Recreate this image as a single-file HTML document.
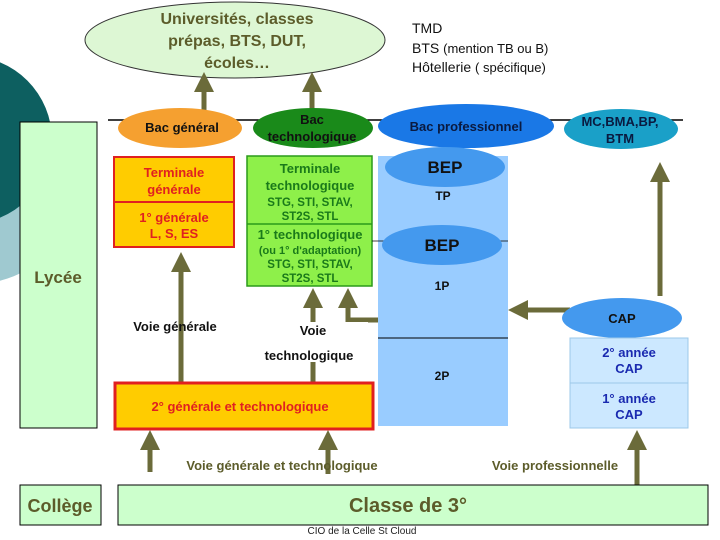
<!DOCTYPE html>
<html><head><meta charset="utf-8"><style>body{margin:0;background:#fff}svg{display:block}text{font-family:"Liberation Sans",sans-serif}</style></head><body>
<svg width="720" height="540" viewBox="0 0 720 540">
<defs><marker id="a" markerWidth="4" markerHeight="4" refX="2" refY="2" orient="auto" markerUnits="strokeWidth"><path d="M0,0 L4,2 L0,4 z" fill="#6b6b3a"/></marker></defs>
<circle cx="-20" cy="195" r="88" fill="#9fc9d0"/>
<circle cx="-32" cy="140" r="84" fill="#0d5f60"/>
<ellipse cx="235" cy="40" rx="150" ry="38" fill="#ddf7d4" stroke="#333"/>
<g font-weight="bold" font-size="16" fill="#5c5c2a" text-anchor="middle"><text x="237" y="24">Universités, classes</text><text x="237" y="46">prépas, BTS, DUT,</text><text x="237" y="68">écoles…</text></g>
<g font-size="14" fill="#111"><text x="412" y="33">TMD</text><text x="412" y="53">BTS <tspan font-size="13">(mention TB ou B)</tspan></text><text x="412" y="72">Hôtellerie <tspan font-size="13">( spécifique)</tspan></text></g>
<g stroke="#6b6b3a" stroke-width="5" fill="none" marker-end="url(#a)">
<line x1="204" y1="110" x2="204" y2="82"/><line x1="312" y1="110" x2="312" y2="82"/>
<line x1="181" y1="410" x2="181" y2="262"/><line x1="313" y1="410" x2="313" y2="298"/>
<polyline points="378,320 348,320 348,298"/>
<line x1="570" y1="310" x2="518" y2="310"/><line x1="660" y1="296" x2="660" y2="172"/>
<line x1="150" y1="472" x2="150" y2="440"/><line x1="637" y1="485" x2="637" y2="440"/>
<line x1="328" y1="480" x2="328" y2="440"/>
</g>
<line x1="328" y1="474" x2="328" y2="481" stroke="#fff" stroke-width="7"/>
<rect x="104" y="320" width="70" height="14" fill="#fff"/>
<rect x="258" y="322" width="110" height="40" fill="#fff"/>
<line x1="108" y1="120" x2="683" y2="120" stroke="#000" stroke-width="1.5"/>
<rect x="20" y="122" width="77" height="306" fill="#ccffcc" stroke="#000"/>
<text x="58" y="283" font-size="17" font-weight="bold" fill="#5c5c2a" text-anchor="middle">Lycée</text>
<ellipse cx="180" cy="128" rx="62" ry="20" fill="#f5a030"/>
<ellipse cx="313" cy="128" rx="60" ry="20" fill="#1a8a1a"/>
<ellipse cx="466" cy="126" rx="88" ry="22" fill="#1a78e6"/>
<ellipse cx="621" cy="129" rx="57" ry="20" fill="#1aa0c8"/>
<g font-size="13" font-weight="bold" fill="#111" text-anchor="middle"><text x="182" y="132">Bac général</text><text x="312" y="124">Bac</text><text x="312" y="141">technologique</text><text x="466" y="131" fill="#0a1a40">Bac professionnel</text><text x="620" y="126" fill="#0a1a40">MC,BMA,BP,</text><text x="620" y="143" fill="#0a1a40">BTM</text></g>
<rect x="114" y="157" width="120" height="90" fill="#ffcc00" stroke="#e02020" stroke-width="2"/>
<line x1="114" y1="202" x2="234" y2="202" stroke="#e02020" stroke-width="2"/>
<g font-size="13" font-weight="bold" fill="#e02020" text-anchor="middle"><text x="174" y="177">Terminale</text><text x="174" y="194">générale</text><text x="174" y="222">1° générale</text><text x="174" y="238">L, S, ES</text></g>
<rect x="247" y="156" width="125" height="130" fill="#8ef04a" stroke="#2a9a1a" stroke-width="1.5"/>
<line x1="247" y1="224" x2="372" y2="224" stroke="#2a9a1a" stroke-width="1.5"/>
<g font-weight="bold" fill="#1a7a1a" text-anchor="middle"><text x="310" y="173" font-size="13">Terminale</text><text x="310" y="190" font-size="13">technologique</text><text x="310" y="206" font-size="11.5">STG, STI, STAV,</text><text x="310" y="220" font-size="11.5">ST2S, STL</text><text x="310" y="239" font-size="13">1° technologique</text><text x="310" y="254" font-size="11">(ou 1° d'adaptation)</text><text x="310" y="268" font-size="11.5">STG, STI, STAV,</text><text x="310" y="282" font-size="11.5">ST2S, STL</text></g>
<rect x="378" y="156" width="130" height="270" fill="#99ccff"/>
<line x1="378" y1="338" x2="508" y2="338" stroke="#000"/>
<line x1="372" y1="241" x2="508" y2="241" stroke="#000" stroke-width="0.8"/>
<ellipse cx="445" cy="167" rx="60" ry="20" fill="#4499ee"/>
<ellipse cx="442" cy="245" rx="60" ry="20" fill="#4499ee"/>
<g font-weight="bold" fill="#111" text-anchor="middle"><text x="445" y="173" font-size="17">BEP</text><text x="442" y="251" font-size="17">BEP</text><text x="443" y="200" font-size="12">TP</text><text x="442" y="290" font-size="12">1P</text><text x="442" y="380" font-size="12">2P</text></g>
<ellipse cx="622" cy="318" rx="60" ry="20" fill="#4499ee"/>
<text x="622" y="323" font-size="13" font-weight="bold" fill="#111" text-anchor="middle">CAP</text>
<rect x="570" y="338" width="118" height="90" fill="#cce8ff" stroke="#9cc8e8"/>
<line x1="570" y1="383" x2="688" y2="383" stroke="#9cc8e8"/>
<g font-size="13" font-weight="bold" fill="#1a2ab0" text-anchor="middle"><text x="629" y="357">2° année</text><text x="629" y="373">CAP</text><text x="629" y="403">1° année</text><text x="629" y="419">CAP</text></g>
<g font-size="13" font-weight="bold" fill="#111" text-anchor="middle"><text x="175" y="331">Voie générale</text><text x="313" y="335">Voie</text><text x="309" y="360">technologique</text></g>
<rect x="115" y="383" width="258" height="46" fill="#ffcc00" stroke="#e02020" stroke-width="3"/>
<text x="240" y="411" font-size="13" font-weight="bold" fill="#e02020" text-anchor="middle">2° générale et technologique</text>
<g font-size="13" font-weight="bold" fill="#5c5c2a" text-anchor="middle"><text x="282" y="470">Voie générale et technologique</text><text x="555" y="470">Voie professionnelle</text></g>
<rect x="20" y="485" width="81" height="40" fill="#ccffcc" stroke="#000"/>
<rect x="118" y="485" width="590" height="40" fill="#ccffcc" stroke="#000"/>
<text x="60" y="512" font-size="18" font-weight="bold" fill="#5c5c2a" text-anchor="middle">Collège</text>
<text x="408" y="512" font-size="20" font-weight="bold" fill="#5c5c2a" text-anchor="middle">Classe de 3°</text>
<text x="362" y="534" font-size="10" fill="#222" text-anchor="middle">CIO de la Celle St Cloud</text>
</svg>
</body></html>
